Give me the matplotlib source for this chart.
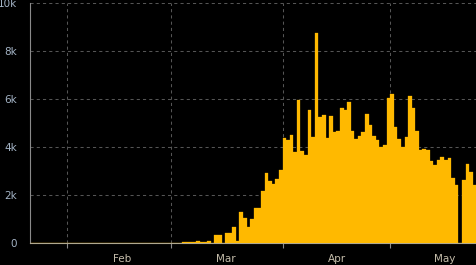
import datetime as dt

import matplotlib
matplotlib.use("Agg")
import matplotlib.dates as mdates
import matplotlib.pyplot as plt
import numpy as np
from matplotlib.ticker import FuncFormatter

# daily values, Jan 22 .. May 24
start_day = dt.date(2020, 1, 22)
early_values = [5, 8, 6, 10, 8, 12, 10, 9, 12, 10,                 # Jan 22-31
                12, 10, 14, 12, 10, 15, 12, 14, 10, 12, 15, 12, 14, 10,
                12, 15, 14, 12, 10, 14, 12, 15, 14, 12, 10, 14, 12, 15, 12,  # Feb
                10, 12, 14]                                        # Mar 1-3
march_values = [55, 55, 55, 55, 96, 55, 55, 96, 5, 345, 345, 10, 430, 430,
                680, 110, 1300, 1050, 680, 1010, 1470, 1470, 2180, 2930,
                2600, 2470, 2680, 3050]                            # Mar 4-31
april_values = [4390, 4300, 4510, 3800, 5970, 3850, 3680, 5550, 4430, 8760,
                5260, 5350, 4390, 5300, 4640, 4680, 5640, 5550, 5890, 4680,
                4350, 4470, 4640, 5390, 4930, 4470, 4300, 4010, 4100, 6050]
may_values = [6220, 4850, 4350, 4010, 4430, 6140, 5640, 4680, 3890, 3930,
              3890, 3430, 3260, 3470, 3600, 3470, 3550, 2720, 2430, 0,
              2640, 3300, 2970, 2430]                              # May 1-24

month_starts = [dt.date(2020, m, 1) for m in (2, 3, 4, 5)]
month_labels = ["Feb", "Mar", "Apr", "May"]
y_ticks = [0, 2000, 4000, 6000, 8000, 10000]

values = np.array(early_values + march_values + april_values + may_values, dtype=float)
days = [start_day + dt.timedelta(days=i) for i in range(len(values))]
x = mdates.date2num(days)

BAR = "#ffb900"
GRID = "#555555"
YLAB = "#a4b4c6"
XLAB = "#c4bcaa"

fig = plt.figure(figsize=(4.77, 2.65), dpi=100, facecolor="black")
ax = fig.add_axes([30.3 / 477, 21.7 / 265, 1 - 30.3 / 477, (243.3 - 3.3) / 265])
ax.set_facecolor("black")

ax.bar(x, values, width=1.0, align="edge", color=BAR, edgecolor=BAR,
       linewidth=0.2, zorder=3)

x0 = mdates.date2num(start_day) - 0.3
x1 = mdates.date2num(dt.date(2020, 5, 25)) + 0.2
ax.set_xlim(x0, x1)
ax.set_ylim(0, 10000)

# month boundaries: gridlines + ticks, labels mid-month
ax.set_xticks(mdates.date2num(month_starts))
ax.set_xticklabels([])
label_pos = mdates.date2num(month_starts) + 15.3
ax.set_xticks(label_pos, minor=True)
ax.set_xticklabels(month_labels, minor=True)
ax.tick_params(axis="x", which="major", length=3.3, width=0.8, color="#8a8a8a")
ax.tick_params(axis="x", which="minor", length=0, pad=7.5, labelsize=7.5,
               labelcolor=XLAB)

ax.set_yticks(y_ticks)
ax.yaxis.set_major_formatter(FuncFormatter(lambda v, _: "0" if v == 0 else f"{v / 1000:g}k"))
ax.tick_params(axis="y", length=0, pad=9.5, labelsize=7.5, labelcolor=YLAB)

ax.grid(True, which="major", color=GRID, linestyle=(0, (3, 3)), linewidth=0.75, zorder=0)
ax.set_axisbelow(True)

for side in ("top", "right"):
    ax.spines[side].set_visible(False)
ax.spines["left"].set_color("#8a8a8a")
ax.spines["bottom"].set_color("#b0a890")
ax.spines["left"].set_linewidth(0.8)
ax.spines["bottom"].set_linewidth(0.8)

fig.savefig("out.png", dpi=100, facecolor="black")
